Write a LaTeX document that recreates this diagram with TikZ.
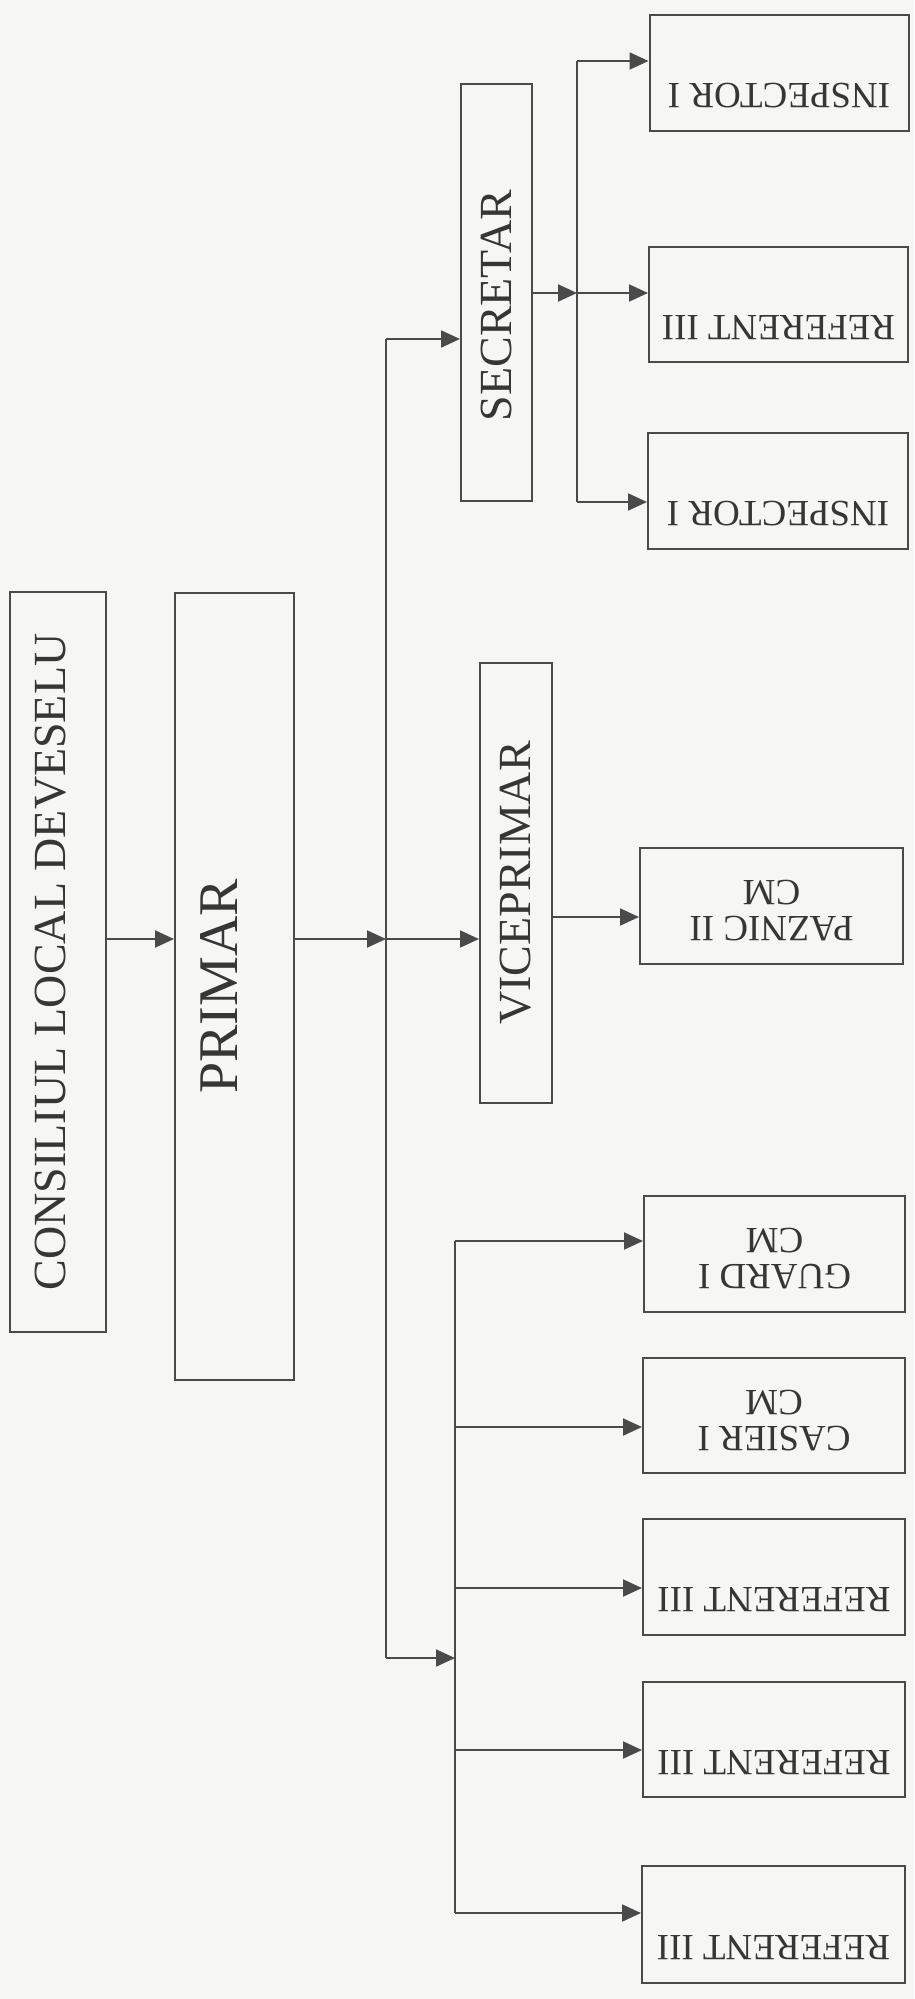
\documentclass[tikz,border=0pt]{standalone}
\usepackage{fontspec}
\setmainfont{Liberation Serif}
\usepackage{graphicx}
\usepackage{tikz}
\usetikzlibrary{arrows.meta,positioning,calc}
\definecolor{linegray}{HTML}{4A4A4A}
\definecolor{inkgray}{HTML}{363636}
\definecolor{paper}{HTML}{F6F6F4}
\newcommand{\upText}[1]{\rotatebox{90}{#1}}
\newcommand{\flipText}[1]{\rotatebox{180}{\begin{tabular}{@{}c@{}}#1\end{tabular}}}
\tikzset{
 box/.style={draw=linegray,line width=2pt,inner sep=0pt,text=inkgray,align=center},
 wire/.style={draw=linegray,line width=2pt},
 arr/.style={wire,-{Triangle[length=19pt,width=17pt]}},
 small/.style={font=\fontsize{37}{36}\selectfont},
}

\begin{document}
\begin{tikzpicture}[x=1pt,y=-1pt]
 \fill[paper] (0,0) rectangle (914,1999);
 \useasboundingbox (0,0) rectangle (914,1999);
 % left column
 \node[box,minimum width=96pt,minimum height=740pt,font=\fontsize{46}{46}\selectfont] (cons) at (58,962) {\upText{CONSILIUL LOCAL DEVESELU}\hspace{14pt}};
 \node[box,minimum width=119pt,minimum height=787pt,font=\fontsize{56}{56}\selectfont] (primar) at (234.5,986.5) {\upText{PRIMAR}\hspace{30pt}};
 \node[box,minimum width=71pt,minimum height=417pt,font=\fontsize{46}{46}\selectfont] (secretar) at (496.5,292.5) {\upText{SECRETAR\hspace{26pt}}};
 \node[box,minimum width=72pt,minimum height=440pt,font=\fontsize{46}{46}\selectfont] (vice) at (516,883) {\upText{VICEPRIMAR}};
 % right column
 \node[box,small,minimum width=259pt,minimum height=116pt] (insp1) at (779,73) {\flipText{INSPECTOR I\\ \strut}};
 \node[box,small,minimum width=259pt,minimum height=115pt] (refS) at (778.5,304.5) {\flipText{REFERENT III\\ \strut}};
 \node[box,small,minimum width=260pt,minimum height=116pt] (insp2) at (778,491) {\flipText{INSPECTOR I\\ \strut}};
 \node[box,small,minimum width=263pt,minimum height=116pt] (paznic) at (771.5,906) {\flipText{PAZNIC II\\ CM}};
 \node[box,small,minimum width=261pt,minimum height=116pt] (guard) at (774.5,1254) {\flipText{GUARD I\\ CM}};
 \node[box,small,minimum width=262pt,minimum height=115pt] (casier) at (774,1415.5) {\flipText{CASIER I\\ CM}};
 \node[box,small,minimum width=262pt,minimum height=116pt] (ref1) at (774,1577) {\flipText{REFERENT III\\ \strut}};
 \node[box,small,minimum width=262pt,minimum height=115pt] (ref2) at (774,1739.5) {\flipText{REFERENT III\\ \strut}};
 \node[box,small,minimum width=263pt,minimum height=117pt] (ref3) at (773.5,1924.5) {\flipText{REFERENT III\\ \strut}};
 % bus points
 \coordinate (tTop) at (386,339);
 \coordinate (tMid) at (386,939);
 \coordinate (tBot) at (386,1658);
 \coordinate (vLink) at (0,917);
 \coordinate (sTop) at (577,61);
 \coordinate (sMid) at (577,293);
 \coordinate (sBot) at (577,502);
 \coordinate (lTop) at (455,1241);
 \coordinate (lBot) at (455,1913);
 % trunk
 \draw[arr] (cons.east |- tMid) -- (primar.west |- tMid);
 \draw[arr] (primar.east |- tMid) -- (tMid);
 \draw[wire] (tTop) -- (tBot);
 \draw[arr] (tTop) -- (secretar.west |- tTop);
 \draw[arr] (tMid) -- (vice.west |- tMid);
 \draw[arr] (tBot) -- (lTop |- tBot);
 \draw[arr] (vice.east |- vLink) -- (paznic.west |- vLink);
 % secretar branch
 \draw[wire] (sTop) -- (sBot);
 \draw[arr] (secretar.east |- sMid) -- (sMid);
 \foreach \n/\c in {insp1/sTop,refS/sMid,insp2/sBot}{
  \draw[arr] (\c) -- (\n.west |- \c);}
 % lower branch
 \draw[wire] (lTop) -- (lBot);
 \foreach \n/\y in {guard/1241,casier/1427,ref1/1588,ref2/1750,ref3/1913}{
  \draw[arr] (lTop |- 0,\y) -- (\n.west |- 0,\y);}
\end{tikzpicture}
\end{document}
